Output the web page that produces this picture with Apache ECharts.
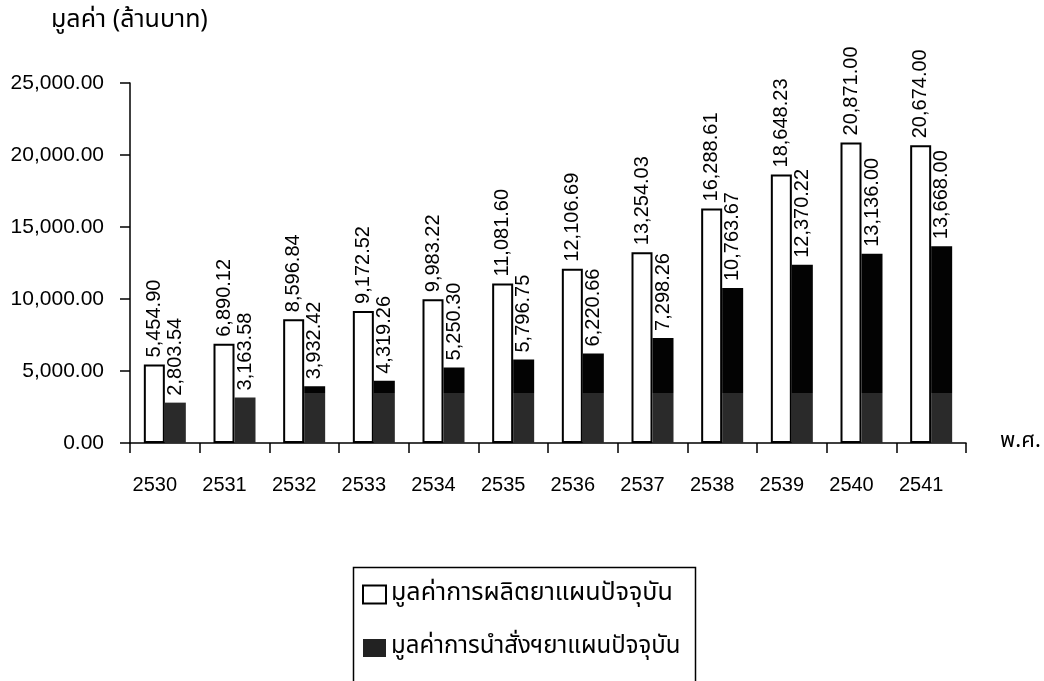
<!DOCTYPE html>
<html>
<head>
<meta charset="utf-8">
<title>มูลค่าการผลิตและการนำสั่งยาแผนปัจจุบัน</title>
<script src="https://cdn.jsdelivr.net/npm/echarts@6/dist/echarts.min.js"></script>
<style>
  html, body { margin: 0; padding: 0; background: #ffffff; }
  #chart { width: 1044px; height: 681px; }
</style>
</head>
<body>
<div id="chart"></div>
<script>
// Buddhist-era years (พ.ศ.)
const years = ['2530', '2531', '2532', '2533', '2534', '2535', '2536', '2537', '2538', '2539', '2540', '2541'];
// Value of modern drug production (million baht)
const productionValues = [5454.90, 6890.12, 8596.84, 9172.52, 9983.22, 11081.60, 12106.69, 13254.03, 16288.61, 18648.23, 20871.00, 20674.00];
// Value of modern drug imports (million baht)
const importValues = [2803.54, 3163.58, 3932.42, 4319.26, 5250.30, 5796.75, 6220.66, 7298.26, 10763.67, 12370.22, 13136.00, 13668.00];
const seriesNames = ['มูลค่าการผลิตยาแผนปัจจุบัน', 'มูลค่าการนำสั่งฯยาแผนปัจจุบัน'];
const yTicks = { min: 0, max: 25000, step: 5000 };

const latinFont = '"Liberation Sans", Arial, sans-serif';
const thaiFont = '"Noto Sans Thai", "Noto Sans Thai UI", Loma, Garuda, "Tlwg Typo", "Liberation Sans", sans-serif';

const fmt = v => Number(v).toLocaleString('en-US', { minimumFractionDigits: 2, maximumFractionDigits: 2 });

const valueLabel = {
  show: true,
  position: 'top',
  rotate: 90,
  align: 'left',
  verticalAlign: 'middle',
  distance: 7,
  fontFamily: latinFont,
  fontSize: 20,
  color: '#000',
  formatter: p => fmt(p.value)
};

// dark fill for import bars; the lower band prints a touch lighter
const darkFill = {
  type: 'linear', x: 0, y: 0, x2: 0, y2: 681, global: true,
  colorStops: [
    { offset: 0, color: '#030303' },
    { offset: 393 / 681, color: '#030303' },
    { offset: 393 / 681, color: '#2a2a2a' },
    { offset: 1, color: '#2a2a2a' }
  ]
};

const chart = echarts.init(document.getElementById('chart'), null, { renderer: 'canvas' });
chart.setOption({
  animation: false,
  backgroundColor: '#ffffff',
  title: {
    text: 'มูลค่า (ล้านบาท)',
    left: 46,
    top: 4,
    textStyle: { fontFamily: thaiFont, fontSize: 25, fontWeight: 'normal', color: '#000' }
  },
  // frame around the legend, running off the lower edge of the page
  graphic: [{
    type: 'rect',
    left: 351,
    top: 565,
    shape: { width: 342, height: 140 },
    style: { fill: 'none', stroke: '#000', lineWidth: 1.5 },
    silent: true
  }],
  grid: { left: 130, right: 78, top: 83, bottom: 238, containLabel: false },
  legend: {
    orient: 'vertical',
    left: 362,
    top: 582,
    padding: 0,
    icon: 'rect',
    itemWidth: 23,
    itemHeight: 18,
    itemGap: 29,
    textStyle: { fontFamily: thaiFont, fontSize: 25, lineHeight: 18, color: '#000' },
    data: [
      { name: seriesNames[0], itemStyle: { color: '#fff', borderColor: '#000', borderWidth: 2 } },
      { name: seriesNames[1], itemStyle: { color: '#222', borderWidth: 0 }, textStyle: { fontSize: 24 } }
    ]
  },
  xAxis: {
    type: 'category',
    data: years,
    name: 'พ.ศ.',
    nameLocation: 'end',
    nameGap: 34,
    nameTextStyle: { fontFamily: thaiFont, fontSize: 22, color: '#000', padding: [10, 0, 0, 0] },
    axisLine: { show: true, lineStyle: { color: '#000', width: 1.5 } },
    axisTick: { show: true, length: 10, lineStyle: { color: '#000', width: 1.5 } },
    axisLabel: { margin: 32, fontFamily: latinFont, fontSize: 20, color: '#000', padding: [0, 20, 0, 0] },
    splitLine: { show: false }
  },
  yAxis: {
    type: 'value',
    min: yTicks.min,
    max: yTicks.max,
    interval: yTicks.step,
    axisLine: { show: true, lineStyle: { color: '#000', width: 1.5 } },
    axisTick: { show: true, length: 10, lineStyle: { color: '#000', width: 1.5 } },
    axisLabel: { margin: 26, fontFamily: latinFont, fontSize: 21, color: '#000', formatter: v => fmt(v) },
    splitLine: { show: false }
  },
  series: [
    {
      name: seriesNames[0],
      type: 'bar',
      data: productionValues,
      barWidth: 21,
      barGap: '0%',
      itemStyle: { color: '#fff', borderColor: '#000', borderWidth: 2 },
      label: valueLabel
    },
    {
      name: seriesNames[1],
      type: 'bar',
      data: importValues,
      barWidth: 21,
      itemStyle: { color: darkFill },
      label: valueLabel
    }
  ]
});
</script>
</body>
</html>
